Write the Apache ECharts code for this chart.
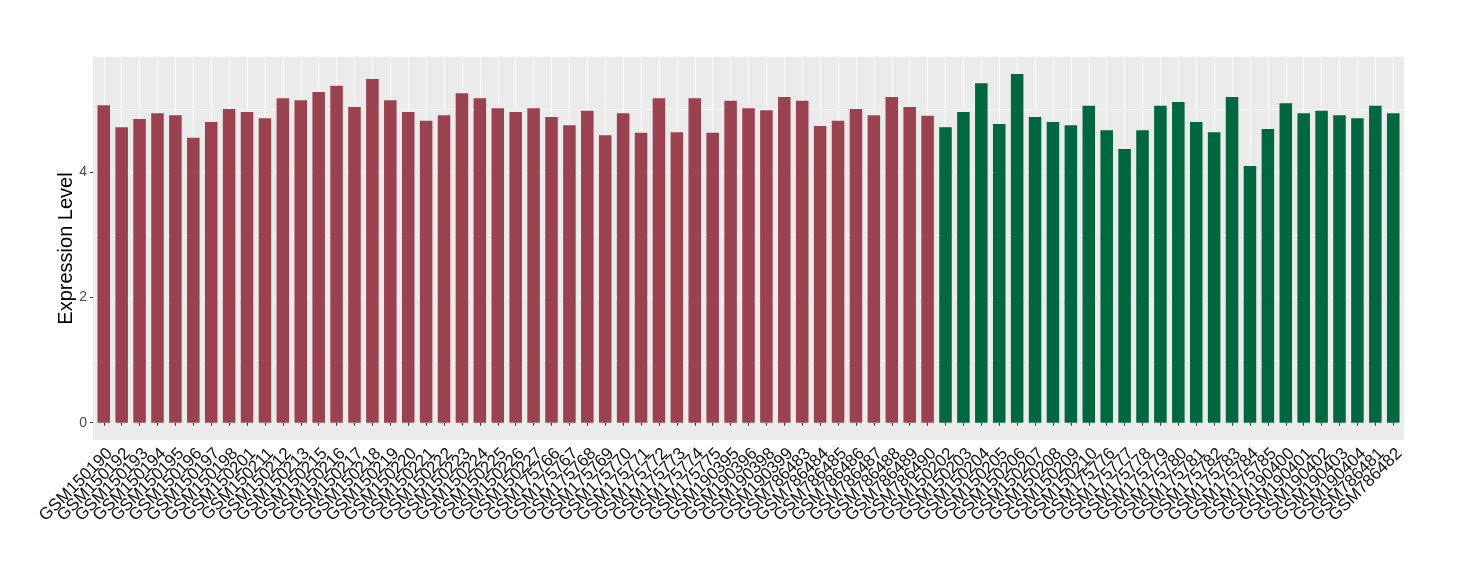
<!DOCTYPE html>
<html>
<head>
<meta charset="utf-8">
<script src="https://cdn.jsdelivr.net/npm/echarts@6/dist/echarts.min.js"></script>
<style>
  html, body { margin: 0; padding: 0; background: #fff; }
  #chart { width: 1460px; height: 580px; }
</style>
</head>
<body>
<div id="chart"></div>
<script>
// group 1 (red)
const redSamples = ['GSM150190', 'GSM150192', 'GSM150193', 'GSM150194', 'GSM150195', 'GSM150196', 'GSM150197', 'GSM150198',
  'GSM150201', 'GSM150211', 'GSM150212', 'GSM150213', 'GSM150215', 'GSM150216', 'GSM150217', 'GSM150218', 'GSM150219',
  'GSM150220', 'GSM150221', 'GSM150222', 'GSM150223', 'GSM150224', 'GSM150225', 'GSM150226', 'GSM150227', 'GSM175766',
  'GSM175767', 'GSM175768', 'GSM175769', 'GSM175770', 'GSM175771', 'GSM175772', 'GSM175773', 'GSM175774', 'GSM175775',
  'GSM190395', 'GSM190396', 'GSM190398', 'GSM190399', 'GSM786483', 'GSM786484', 'GSM786485', 'GSM786486', 'GSM786487',
  'GSM786488', 'GSM786489', 'GSM786490']
const redValues = [5.07, 4.72, 4.85, 4.94, 4.91, 4.55, 4.80, 5.01, 4.96, 4.86, 5.18, 5.15, 5.28, 5.38, 5.04, 5.49, 5.15,
  4.96, 4.82, 4.91, 5.26, 5.18, 5.02, 4.96, 5.02, 4.88, 4.75, 4.98, 4.59, 4.94, 4.63, 5.18, 4.64, 5.18, 4.63,
  5.14, 5.02, 4.99, 5.20, 5.14, 4.74, 4.82, 5.01, 4.91, 5.20, 5.04, 4.90]
// group 2 (green)
const greenSamples = ['GSM150202', 'GSM150203', 'GSM150204', 'GSM150205', 'GSM150206', 'GSM150207', 'GSM150208', 'GSM150209',
  'GSM150210', 'GSM175776', 'GSM175777', 'GSM175778', 'GSM175779', 'GSM175780', 'GSM175781', 'GSM175782', 'GSM175783',
  'GSM175784', 'GSM175785', 'GSM190400', 'GSM190401', 'GSM190402', 'GSM190403', 'GSM190404', 'GSM786481', 'GSM786482']
const greenValues = [4.72, 4.96, 5.42, 4.77, 5.57, 4.88, 4.80, 4.75, 5.06, 4.67, 4.37, 4.67, 5.06, 5.12, 4.80, 4.64, 5.20,
  4.10, 4.69, 5.10, 4.94, 4.98, 4.91, 4.86, 5.06, 4.94]

const redColor = '#9A4250'
const greenColor = '#00673F'
const yMax = 5.84

const samples = redSamples.concat(greenSamples)
const barData = redValues.map(v => ({ value: v, itemStyle: { color: redColor } }))
  .concat(greenValues.map(v => ({ value: v, itemStyle: { color: greenColor } })))

const chart = echarts.init(document.getElementById('chart'))
chart.setOption({
  animation: false,
  textStyle: { fontFamily: 'Liberation Sans' },
  grid: { left: 94.8, right: 57.8, top: 57, bottom: 157.3 },
  graphic: [
    {
      type: 'rect',
      z: -100,
      silent: true,
      shape: { x: 93, y: 57, width: 1311, height: 383 },
      style: { fill: '#EBEBEB' }
    },
    {
      // y axis title, centred on the panel
      type: 'text',
      x: 66,
      y: 248.5,
      rotation: Math.PI / 2,
      silent: true,
      style: {
        text: 'Expression Level',
        font: '20px "Liberation Sans"',
        fill: '#000',
        align: 'center',
        verticalAlign: 'middle'
      }
    }
  ],
  xAxis: {
    type: 'category',
    data: samples,
    boundaryGap: true,
    offset: 17.3,
    axisLine: { show: false },
    axisTick: { show: true, alignWithLabel: true, length: 3, lineStyle: { color: '#333', width: 1 } },
    axisLabel: { interval: 0, rotate: 45, margin: 5, fontSize: 17, color: '#111', verticalAlign: 'top' },
    splitLine: { show: true, alignWithLabel: true, lineStyle: { color: '#fff', width: 1.1 } }
  },
  yAxis: [
    {
      type: 'value',
      min: 0,
      max: yMax,
      interval: 2,
      offset: 1.8,
      axisLine: { show: false },
      axisTick: { show: true, length: 3, lineStyle: { color: '#333', width: 1 } },
      axisLabel: { margin: 6, fontSize: 14, color: '#4D4D4D', showMaxLabel: false,
        formatter: v => (v % 2 === 0 ? String(v) : '') },
      splitLine: { show: true, showMaxLine: false, lineStyle: { color: '#fff', width: 1.1 } }
    },
    {
      type: 'value',
      min: 0,
      max: yMax,
      interval: 1,
      position: 'left',
      offset: 1.8,
      axisLine: { show: false },
      axisTick: { show: false },
      axisLabel: { show: false },
      splitLine: { show: true, showMaxLine: false, lineStyle: { color: '#fff', width: 0.55 } }
    }
  ],
  series: [{
    type: 'bar',
    data: barData,
    barWidth: '70%',
    yAxisIndex: 0
  }]
})
</script>
</body>
</html>
